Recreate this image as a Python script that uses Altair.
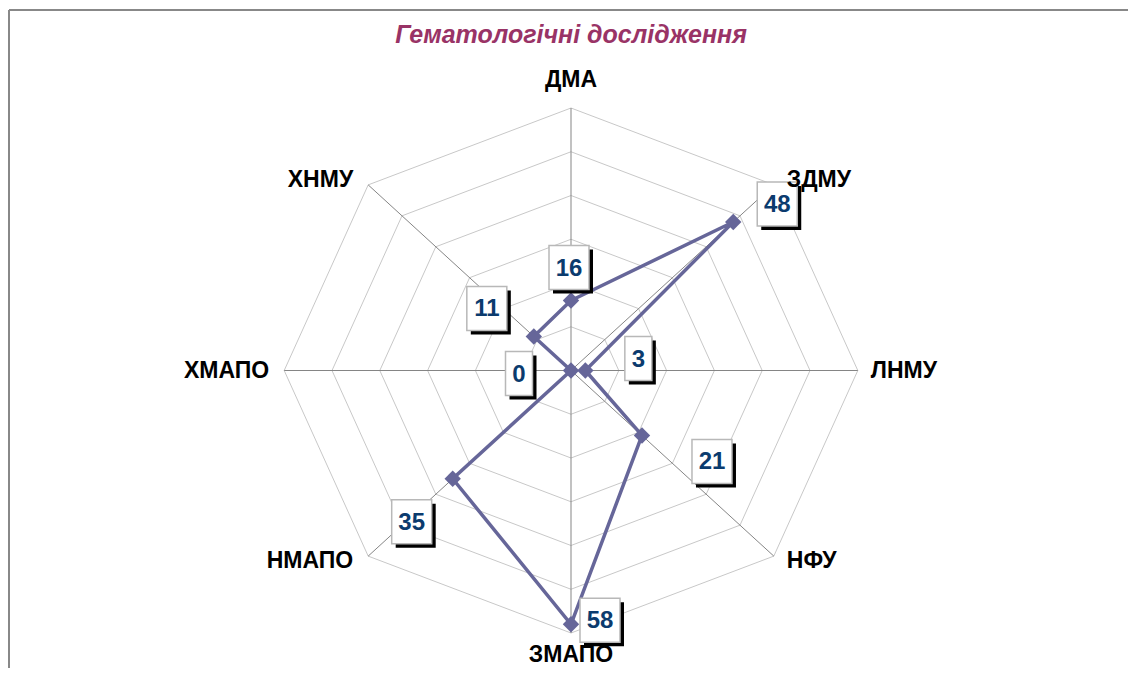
import math
import pandas as pd
import altair as alt

# ---------------- data ----------------
title_text = "Гематологічні дослідження"
categories = ["ДМА", "ЗДМУ", "ЛНМУ", "НФУ", "ЗМАПО", "НМАПО", "ХМАПО", "ХНМУ"]
values = [16, 48, 3, 21, 58, 35, 0, 11]
ring_levels = [10, 20, 30, 40, 50, 60]
r_max = 60

# ---------------- layout (pixels) ----------------
label_dx = [-2, 44, 53, 70, 29, -41, -52, -47]      # data-label nudges, screen px
label_dy = [-33, -18, -12, 26, -4, 43, 3, -28]
W, H = 1120, 660
CX, CY = 563, 362.5
PXX, PXY = 4.78, 4.375

xdom = [-CX / PXX, (W - CX) / PXX]
ydom = [-(H - CY) / PXY, CY / PXY]
xs = alt.Scale(domain=xdom, nice=False, zero=False)
ys = alt.Scale(domain=ydom, nice=False, zero=False)

n = len(categories)
ang = [2 * math.pi * i / n for i in range(n)]
FONT = "Liberation Sans"

# rings
ring_rows = []
for lv in ring_levels:
    for k in range(n + 1):
        a = ang[k % n]
        ring_rows.append({"ring": lv, "k": k, "x": lv * math.sin(a), "y": lv * math.cos(a)})
rings = pd.DataFrame(ring_rows)

# spokes
spokes = pd.DataFrame({
    "x0": [0.0] * n, "y0": [0.0] * n,
    "x": [r_max * math.sin(a) for a in ang],
    "y": [r_max * math.cos(a) for a in ang],
})

# series
ser_rows = []
for k in range(n + 1):
    i = k % n
    ser_rows.append({"k": k, "cat": categories[i], "v": values[i],
                     "x": values[i] * math.sin(ang[i]), "y": values[i] * math.cos(ang[i])})
series = pd.DataFrame(ser_rows)
points = series.iloc[:n]

# data labels
lab_rows = []
for i in range(n):
    cx = values[i] * math.sin(ang[i]) + label_dx[i] / PXX
    cy = values[i] * math.cos(ang[i]) - label_dy[i] / PXY
    nd = len(str(values[i]))
    hw = 7 + 6.5 * nd
    hh = 22
    sh = 4
    lab_rows.append({
        "txt": str(values[i]), "cx": cx, "cy": cy - 1.0 / PXY,
        "bx0": cx - hw / PXX, "bx1": cx + hw / PXX,
        "by0": cy - hh / PXY, "by1": cy + hh / PXY,
        "sx0": cx - hw / PXX + sh / PXX, "sx1": cx + hw / PXX + sh / PXX,
        "sy0": cy - hh / PXY - sh / PXY, "sy1": cy + hh / PXY - sh / PXY,
    })
labels = pd.DataFrame(lab_rows)

# category labels
cat_rows = []
for i in range(n):
    s, c = math.sin(ang[i]), math.cos(ang[i])
    if s > 0.1:
        al, dxp = "left", 13
    elif s < -0.1:
        al, dxp = "right", -15
    else:
        al, dxp = "center", 0
    if abs(c) > 0.9:
        dyp = 28 if c > 0 else -22
    elif abs(c) > 0.1:
        dyp = 5 if c > 0 else -5
    else:
        dyp = 0
    cat_rows.append({"cat": categories[i], "align": al,
                     "x": r_max * s + dxp / PXX, "y": r_max * c + dyp / PXY})
cats = pd.DataFrame(cat_rows)

# ---------------- layers ----------------
ring_layer = alt.Chart(rings).mark_line(color="#c8c8c8", strokeWidth=1).encode(
    x=alt.X("x:Q", scale=xs, axis=None),
    y=alt.Y("y:Q", scale=ys, axis=None),
    detail="ring:N", order="k:Q")

spoke_layer = alt.Chart(spokes).mark_rule(color="#858585", strokeWidth=1).encode(
    x=alt.X("x0:Q", scale=xs, axis=None), y=alt.Y("y0:Q", scale=ys, axis=None),
    x2="x:Q", y2="y:Q")

line_layer = alt.Chart(series).mark_line(color="#666699", strokeWidth=3.5).encode(
    x=alt.X("x:Q", scale=xs, axis=None), y=alt.Y("y:Q", scale=ys, axis=None),
    order="k:Q")

point_layer = alt.Chart(points).mark_point(
    shape="diamond", filled=True, size=270, color="#666699", opacity=1).encode(
    x=alt.X("x:Q", scale=xs, axis=None), y=alt.Y("y:Q", scale=ys, axis=None))

shadow_layer = alt.Chart(labels).mark_rect(color="#000000").encode(
    x=alt.X("sx0:Q", scale=xs, axis=None), x2="sx1:Q",
    y=alt.Y("sy0:Q", scale=ys, axis=None), y2="sy1:Q")

box_layer = alt.Chart(labels).mark_rect(
    fill="#ffffff", stroke="#b8b8b8", strokeWidth=1.5).encode(
    x=alt.X("bx0:Q", scale=xs, axis=None), x2="bx1:Q",
    y=alt.Y("by0:Q", scale=ys, axis=None), y2="by1:Q")

text_layer = alt.Chart(labels).mark_text(
    font=FONT, fontSize=24, fontWeight="bold", color="#0b3b6e", baseline="middle").encode(
    x=alt.X("cx:Q", scale=xs, axis=None), y=alt.Y("cy:Q", scale=ys, axis=None),
    text="txt:N")

cat_layers = []
for al in ["left", "center", "right"]:
    cat_layers.append(
        alt.Chart(cats).transform_filter(alt.datum.align == al).mark_text(
            font=FONT, fontSize=23, fontWeight="bold", color="#000000",
            align=al, baseline="middle").encode(
            x=alt.X("x:Q", scale=xs, axis=None), y=alt.Y("y:Q", scale=ys, axis=None),
            text="cat:N"))

title_layer = alt.Chart(pd.DataFrame({"t": [title_text]})).mark_text(
    font=FONT, fontSize=25, fontWeight="bold", fontStyle="italic", color="#993366",
    align="center", baseline="alphabetic").encode(
    x=alt.value(CX), y=alt.value(35), text="t:N")

border_left = alt.Chart(pd.DataFrame({"a": [0]})).mark_rule(
    color="#888888", strokeWidth=2).encode(x=alt.value(1), y=alt.value(2), y2=alt.value(H))
border_top = alt.Chart(pd.DataFrame({"a": [0]})).mark_rule(
    color="#888888", strokeWidth=2).encode(y=alt.value(2), x=alt.value(1), x2=alt.value(W))

chart = alt.layer(
    ring_layer, spoke_layer, line_layer, point_layer,
    shadow_layer, box_layer, text_layer, *cat_layers, title_layer,
    border_left, border_top
).properties(
    width=W, height=H,
    autosize=alt.AutoSizeParams(type="none"),
    padding=0,
    background="#ffffff",
).configure_view(stroke=None)

chart.save("out.html", embed_options={"renderer": "svg", "actions": False})
